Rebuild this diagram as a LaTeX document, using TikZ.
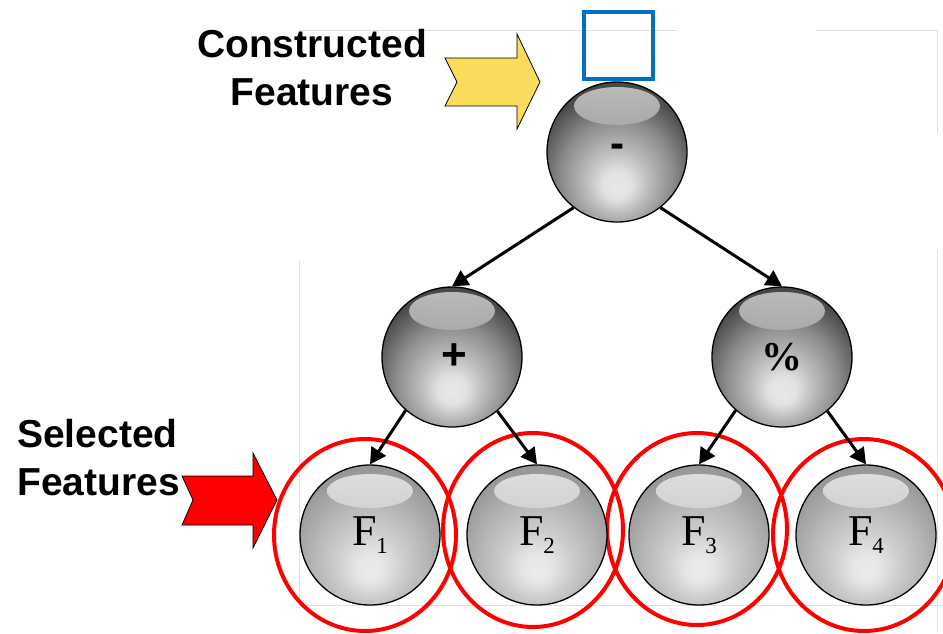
\documentclass[tikz,border=0pt]{standalone}
\usepackage{fontspec}
\newfontfamily\lsans{Liberation Sans}
\newfontfamily\lserif{Liberation Serif}
\usetikzlibrary{arrows.meta}
\definecolor{opA}{HTML}{E8E8E8}
\definecolor{opB}{HTML}{E2E2E2}
\definecolor{opC}{HTML}{BDBDBD}
\definecolor{opD}{HTML}{8C8C8C}
\definecolor{opE}{HTML}{4C4C4C}
\definecolor{opF}{HTML}{303030}
\definecolor{fA}{HTML}{ECECEC}
\definecolor{fB}{HTML}{E6E6E6}
\definecolor{fC}{HTML}{CDCDCD}
\definecolor{fD}{HTML}{B6B6B6}
\definecolor{fE}{HTML}{9A9A9A}
\definecolor{fF}{HTML}{858585}
\definecolor{opHa}{HTML}{CACACA}
\definecolor{opHb}{HTML}{6E6E6E}
\definecolor{fHa}{HTML}{E8E8E8}
\definecolor{fHb}{HTML}{AEAEAE}
\definecolor{yellowA}{HTML}{F9DC5C}
\definecolor{redA}{HTML}{FF0000}
\definecolor{blueBox}{HTML}{0070C0}
\definecolor{faintG}{HTML}{E0E0E0}
\pgfdeclareradialshading{opshade}{\pgfpoint{0bp}{-13bp}}{color(0bp)=(opA); color(5bp)=(opB); color(11bp)=(opC); color(20bp)=(opD); color(29bp)=(opE); color(39bp)=(opF); color(60bp)=(opF)}
\pgfdeclareradialshading{fshade}{\pgfpoint{0bp}{-13bp}}{color(0bp)=(fA); color(5bp)=(fB); color(12bp)=(fC); color(20bp)=(fD); color(29bp)=(fE); color(39bp)=(fF); color(60bp)=(fF)}
\tikzset{
  ballbase/.style={circle, draw=black, line width=1.3pt, minimum size=140pt, inner sep=0pt},
  opball/.style={ballbase, shade, shading=opshade,
    path picture={\shade[top color=opHa, bottom color=opHb, fill opacity=0.9] ([yshift=46pt]path picture bounding box.center) ellipse [x radius=43pt, y radius=19pt];}},
  fball/.style={ballbase, shade, shading=fshade,
    font=\lserif\fontsize{44}{44}\selectfont,
    path picture={\shade[top color=fHa, bottom color=fHb, fill opacity=0.9] ([yshift=44pt]path picture bounding box.center) ellipse [x radius=43pt, y radius=17pt];}},
  conn/.style={line width=3pt, -{Triangle[length=16pt, width=17pt]}},
  biglbl/.style={font=\lsans\bfseries\fontsize{39}{39}\selectfont, inner sep=0pt},
  oplbl/.style={inner sep=0pt, anchor=base},
  blockarrow/.style={draw=black, line width=0.8pt, line join=miter},
  selring/.style={draw=redA, line width=4pt},
  faint/.style={draw=faintG, line width=0.8pt}
}
\newcommand{\subdig}[1]{\raisebox{-8pt}{\fontsize{23}{23}\selectfont #1}}
\begin{document}
\begin{tikzpicture}[x=1pt, y=-1pt]
\useasboundingbox (0,0) rectangle (943,633);
% faint frame lines
\draw[faint] (299,30) -- (677,30);
\draw[faint] (816,30) -- (937,30) -- (937,133);
\draw[faint] (299,30) -- (299,60);
\draw[faint] (299,260) -- (299,605) -- (943,605);
\draw[faint] (937,250) -- (937,633);
% selection rings
\draw[selring] (365,535) ellipse [x radius=91pt, y radius=96pt];
\draw[selring] (533,530) ellipse [x radius=90pt, y radius=97pt];
\draw[selring] (697,529) ellipse [x radius=90pt, y radius=96pt];
\draw[selring] (864,535) ellipse [x radius=91pt, y radius=96pt];
% spheres
\node[opball] (top) at (617,152) {};
\node[opball] (plus) at (452,357) {};
\node[opball] (pct) at (782,357) {};
\node[fball] (f1) at (370,535) {F\subdig{1}};
\node[fball] (f2) at (537,535) {F\subdig{2}};
\node[fball] (f3) at (699,535) {F\subdig{3}};
\node[fball] (f4) at (866,535) {F\subdig{4}};
% operator labels
\node[oplbl, font=\lsans\bfseries\fontsize{42}{42}\selectfont] (lminus) at (617.5,157.5) {-};
\node[oplbl, font=\lsans\bfseries\fontsize{44}{44}\selectfont] (lplus) at (454,369.5) {+};
\node[oplbl, font=\lserif\bfseries\fontsize{41}{41}\selectfont] (lpct) at (782,370) {\%};
% constructed feature box
\node[draw=blueBox, line width=4pt, minimum width=69pt, minimum height=66.5pt, inner sep=0pt] (cbox) at (618.5,45.25) {};
% connectors
\draw[conn] (top.-128) -- (plus.north);
\draw[conn] (top.-52) -- (pct.north);
\draw[conn] (plus.-131) -- (f1.north);
\draw[conn] (plus.-50) -- (f2.north);
\draw[conn] (pct.-131) -- (f3.north);
\draw[conn] (pct.-50) -- (f4.north);
% block arrows
\draw[blockarrow, fill=yellowA] (445,58) -- (517,58) -- (517,34) -- (540,82) -- (517,129) -- (517,106) -- (445,106) -- (457,82) -- cycle;
\draw[blockarrow, fill=redA] (182,476) -- (253,476) -- (253,453) -- (277,500) -- (253,548) -- (253,525) -- (182,525) -- (193,500) -- cycle;
% texts
\node[biglbl, anchor=base] (c1) at (312,57) {Constructed};
\node[biglbl, anchor=base] (c2) at (312,105) {Features};
\node[biglbl, anchor=base west] (s1) at (17,447) {Selected};
\node[biglbl, anchor=base west] (s2) at (17,495) {Features};
\end{tikzpicture}
\end{document}
